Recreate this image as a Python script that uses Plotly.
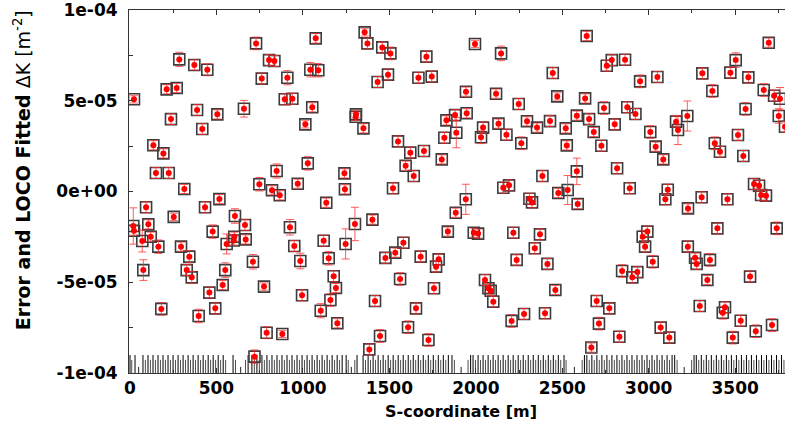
import plotly.graph_objects as go

# ---- data (S in m, dK in 1e-5 m^-2) ----
s_pos = [23, 135, 193, 150, 224, 314, 212, 270, 237, 285, 372, 447, 388, 418, 505, 517, 659, 729, 804, 835,
         762, 910, 895, 939, 1014, 1074, 1043, 1089, 1054, 1028, 848, 748, 821, 866, 970,
         19, 23, 93, 106, 120, 71, 164, 77, 181, 253, 295, 343, 328, 357, 397, 434, 478, 459, 493, 536,
         551, 559, 607, 603, 600, 665, 669, 711, 775, 790, 881, 720, 925, 950, 985, 995, 1135, 1120, 1149,
         1178, 1191, 1159, 1103, 1199,
         1357, 1373, 1459, 1506, 1432, 1492, 1668, 1745, 1714, 1995, 2146, 2445, 2471, 1943, 2117, 2248,
         1307, 1305, 1350, 1550, 1621, 1700, 1594, 1641, 1803, 1830, 1880, 1947, 1818, 1887, 2042, 2030,
         2131, 2177, 2296, 2354, 2429, 2263, 2385, 2192, 2159, 1240, 1243, 1521, 1942, 2477, 2310, 2325,
         1301, 1247, 1402, 1477, 1534, 1581, 1562, 1417, 1446, 1384, 1654, 1608, 1681, 1770, 1785, 1758,
         1726, 1838, 1884, 1988, 2013, 2053, 2073, 2086, 2101, 2217, 2236, 2371, 2341, 2414, 2460, 2207,
         2279, 2400,
         2641, 2757, 2786, 2863, 2950, 3050, 2632, 2741, 2876, 2923, 2584, 2655, 2520, 2682, 2803, 2526,
         2726, 3009, 3040, 3084, 3158, 3169, 3223, 3310, 3368, 3472, 3503, 3576, 3694, 3665, 3725, 3759,
         3560, 3752, 3788, 3516, 3382, 3412, 3547, 2817, 2584, 2531, 2890, 3110, 3609, 3638, 3650, 3678,
         3096, 3306, 3455,
         2589, 3227, 3397, 3740, 2965, 2992, 2979, 3023, 2846, 2905, 2934, 3226, 3268, 3277, 3354, 3339,
         3586, 2699, 2772, 2712, 2830, 2668, 3295, 3441, 3428, 3532, 3619, 3713, 3069, 3119, 3486]

dk_fit = [5.08, 2.55, 2.10, 1.02, 1.02, 0.14, 5.63, 5.70, 3.99, 7.28, 6.97, 6.71, 4.49, 3.44, 4.25, -0.42,
          4.56, 8.16, 7.24, 7.19, 6.22, 6.27, 5.08, 5.11, 3.70, 8.44, 6.71, 6.68, 4.64, 1.55, 1.13, 0.40,
          0.07, -0.21, 0.43,
          -1.90, -2.16, -0.87, -1.81, -2.49, -2.73, -3.04, -4.33, -6.47, -1.40, -3.04, -3.59, -4.33, -4.73,
          -6.86, -0.87, -2.21, -5.57, -6.44, -5.15, -4.33, -2.89, -1.35, -2.49, -2.70, -1.85, -2.64, -3.87,
          -5.24, -7.78, -7.85, -9.10, -1.97, -3.00, -3.83, -5.72, -0.62, -2.71, -3.68, -4.67, -5.32, -5.98,
          -6.57, -7.26,
          8.77, 8.16, 7.94, 7.61, 6.03, 6.44, 6.27, 6.33, 7.43, 8.13, 7.61, 6.53, 5.24, 5.50, 5.39, 4.82,
          4.25, 4.12, 3.48, 2.76, 2.14, 2.23, 1.42, 0.85, 1.77, 3.92, 4.21, 4.31, 2.96, 3.24, 3.52, 2.99,
          3.74, 3.13, 3.87, 3.52, 3.88, 2.66, 0.85, 0.34, 0.21, 1.00, 0.12, 0.18, -0.43, -0.08, -0.40, -0.60,
          -1.79, -2.89, -1.55, -3.66, -3.37, -2.82, -4.82, -6.03, -7.96, -8.70, -6.44, -7.48, -3.59, -4.14,
          -3.74, -5.33, -8.18, -2.21, -1.17, -2.27, -2.32, -4.88, -5.33, -5.47, -6.07, -2.27, -3.77, -2.36,
          -3.13, -3.99, -5.43, -7.13, -6.75, -6.71,
          8.57, 6.93, 7.24, 7.26, 6.07, 6.31, 5.13, 4.60, 4.64, 4.27, 4.18, 3.99, 3.48, 3.28, 3.70, 2.54,
          2.52, 3.28, 2.47, 1.77, 3.85, 3.39, 4.16, 6.51, 5.54, 6.55, 7.24, 6.29, 8.20, 5.59, 5.28, 5.11,
          4.55, 4.16, 3.57, 3.11, 2.66, 2.19, 1.96, 1.28, 1.11, 0.08, 0.18, 0.10, 0.41, 0.32, -0.19, -0.23,
          -0.43, -0.32, -0.43,
          -0.69, -0.93, -2.03, -2.03, -2.49, -2.21, -3.04, -3.87, -4.38, -4.73, -4.44, -3.04, -3.65, -3.99,
          -3.77, -4.88, -4.69, -6.03, -6.44, -7.28, -8.00, -8.60, -6.31, -6.38, -6.68, -7.12, -7.70, -7.36,
          -7.50, -8.05, -8.05]

# black squares: error (same readings as fitted values)
dk_error = list(dk_fit)

fit_sigma = [0.20, 0.25, 0.25, 0.30, 0.30, 0.25, 0.25, 0.25, 0.30, 0.39, 0.28, 0.33, 0.30, 0.30, 0.25, 0.25,
             0.46, 0.35, 0.30, 0.30, 0.30, 0.39, 0.30, 0.30, 0.20, 0.26, 0.40, 0.37, 0.25, 0.37, 0.39, 0.37,
             0.25, 0.25, 0.25,
             1.00, 0.25, 0.30, 0.25, 0.25, 0.60, 0.37, 0.57, 0.35, 0.20, 0.25, 0.33, 0.30, 0.33, 0.37, 0.30,
             0.37, 0.30, 0.30, 0.25, 0.40, 0.55, 0.40, 0.25, 0.25, 0.30, 0.25, 0.40, 0.20, 0.33, 0.20, 0.37,
             0.43, 0.30, 0.43, 0.30, 0.25, 0.30, 0.37, 0.30, 0.25, 0.35, 0.39, 0.25,
             0.20, 0.30, 0.30, 0.35, 0.30, 0.30, 0.30, 0.30, 0.30, 0.20, 0.40, 0.30, 0.20, 0.25, 0.25, 0.30,
             0.20, 0.20, 0.25, 0.30, 0.30, 0.30, 0.25, 0.30, 0.25, 0.25, 0.30, 0.25, 0.30, 0.83, 0.30, 0.35,
             0.25, 0.30, 0.25, 0.25, 0.30, 0.35, 0.30, 0.30, 0.30, 0.25, 0.25, 0.30, 0.83, 0.25, 0.30, 0.30,
             0.92, 0.83, 0.25, 0.30, 0.25, 0.30, 0.35, 0.30, 0.35, 0.30, 0.30, 0.35, 0.30, 0.30, 0.30, 0.30,
             0.35, 0.25, 0.25, 0.25, 0.25, 0.30, 0.25, 0.25, 0.30, 0.30, 0.30, 0.30, 0.30, 0.30, 0.25, 0.35,
             0.30, 0.30,
             0.25, 0.30, 0.30, 0.30, 0.35, 0.30, 0.25, 0.35, 0.30, 0.30, 0.25, 0.30, 0.25, 0.25, 0.30, 0.25,
             0.30, 0.35, 0.25, 0.25, 0.30, 0.80, 0.83, 0.30, 0.35, 0.30, 0.40, 0.30, 0.25, 0.35, 0.30, 0.62,
             0.35, 0.40, 0.30, 0.30, 0.35, 0.30, 0.30, 0.30, 0.73, 0.80, 0.30, 0.30, 0.30, 0.30, 0.30, 0.30,
             0.30, 0.30, 0.30,
             0.25, 0.25, 0.30, 0.35, 0.35, 0.30, 0.30, 0.35, 0.35, 0.30, 0.30, 0.30, 0.25, 0.30, 0.35, 0.25,
             0.30, 0.30, 0.30, 0.35, 0.30, 0.25, 0.30, 0.30, 0.35, 0.30, 0.35, 0.35, 0.30, 0.30, 0.35]

# lattice element positions (bottom bar), in m
lattice_tall = [0, 29, 75, 104, 133, 162, 191, 220, 249, 278, 307, 336, 365, 394, 423, 452, 481, 510, 539,
                596, 683,
                705, 734, 763, 792, 821, 850, 879, 908, 937, 966, 995, 1024, 1053, 1082, 1111, 1140, 1169, 1198, 1227,
                1250, 1313,
                1348, 1377, 1406, 1435, 1464, 1493, 1522, 1551, 1580, 1609, 1638, 1667, 1696, 1725, 1754, 1783, 1812, 1841,
                1862, 1970,
                1984, 2013, 2042, 2071, 2100, 2129, 2158, 2187, 2216, 2245, 2274, 2303, 2332, 2361, 2390, 2419, 2448, 2477,
                2510, 2628,
                2642, 2671, 2700, 2729, 2758, 2787, 2816, 2845, 2874, 2903, 2932, 2961, 2990, 3019, 3048, 3077, 3106, 3135,
                3150, 3262,
                3275, 3304, 3333, 3362, 3391, 3420, 3449, 3478, 3507, 3536, 3565, 3594, 3623, 3652, 3681, 3710, 3739, 3768]
lattice_short = [10, 89, 118, 147, 176, 205, 234, 263, 292, 321, 350, 379, 408, 437, 466, 495, 524, 553,
                 610, 668,
                 719, 748, 777, 806, 835, 864, 893, 922, 951, 980, 1009, 1038, 1067, 1096, 1125, 1154, 1183, 1212,
                 1262, 1300,
                 1362, 1391, 1420, 1449, 1478, 1507, 1536, 1565, 1594, 1623, 1652, 1681, 1710, 1739, 1768, 1797, 1826,
                 1876, 1955,
                 1998, 2027, 2056, 2085, 2114, 2143, 2172, 2201, 2230, 2259, 2288, 2317, 2346, 2375, 2404, 2433, 2462, 2491,
                 2522, 2615,
                 2656, 2685, 2714, 2743, 2772, 2801, 2830, 2859, 2888, 2917, 2946, 2975, 3004, 3033, 3062, 3091, 3120,
                 3164, 3248,
                 3289, 3318, 3347, 3376, 3405, 3434, 3463, 3492, 3521, 3550, 3579, 3608, 3637, 3666, 3695, 3724, 3753, 3782]
lattice_low = [50, 640, 1280, 1915, 2570, 3205]
lattice_heights = {"tall": 0.99e-5, "short": 0.72e-5, "low": 0.33e-5}

y_tickvals = [-1e-4, -5e-5, 0, 5e-5, 1e-4]
y_ticktext = ["-1e-04", "-5e-05", "0e+00", "5e-05", "1e-04"]
x_tickvals = [0, 500, 1000, 1500, 2000, 2500, 3000, 3500]

SCALE = 1e-5
base = -1e-4

fig = go.Figure()


def lattice_trace(positions, h, color):
    xs, ys = [], []
    for p in positions:
        xs += [p, p, None]
        ys += [base, base + h, None]
    return go.Scatter(x=xs, y=ys, mode="lines", line=dict(color=color, width=1),
                      hoverinfo="skip", showlegend=False)


fig.add_trace(lattice_trace(lattice_short, lattice_heights["short"], "#505050"))
fig.add_trace(lattice_trace(lattice_low, lattice_heights["low"], "#202020"))
fig.add_trace(lattice_trace(lattice_tall, lattice_heights["tall"], "#000000"))

fig.add_trace(go.Scatter(
    x=s_pos, y=[v * SCALE for v in dk_error], mode="markers",
    marker=dict(symbol="square-open", size=11, color="#3c3c3c", line=dict(width=1.6, color="#3c3c3c")),
    showlegend=False, name="Error"))

fig.add_trace(go.Scatter(
    x=s_pos, y=[v * SCALE for v in dk_fit], mode="markers",
    marker=dict(symbol="circle", size=6, color="#ff0000", line=dict(width=0)),
    error_y=dict(type="data", array=[e * SCALE for e in fit_sigma], color="rgba(255,40,40,0.75)",
                 thickness=1, width=4),
    showlegend=False, name="LOCO fitted"))

tickfont = dict(family="DejaVu Sans", size=17, color="black", weight="bold")

fig.update_layout(
    width=785, height=428, autosize=False,
    margin=dict(l=129, r=0, t=10, b=55, pad=0),
    paper_bgcolor="white", plot_bgcolor="white",
    xaxis=dict(range=[-5.8, 3788], tickvals=x_tickvals, ticks="inside", ticklen=5, tickcolor="#333",
               showline=True, linecolor="#333", linewidth=1, mirror="ticks", showgrid=False, zeroline=False,
               tickfont=tickfont, automargin=False, ticklabeloverflow="allow",
               minor=dict(ticks="inside", dtick=250, ticklen=3, tickcolor="#333", showgrid=False)),
    yaxis=dict(range=[-1.0001e-4, 1.0001e-4], tickvals=y_tickvals, ticktext=y_ticktext, ticks="inside",
               ticklen=4, tickcolor="#333", showline=True, linecolor="#333", linewidth=1, showgrid=False,
               zeroline=False, tickfont=tickfont, automargin=False, ticklabeloverflow="allow",
               ticklabelstandoff=7,
               minor=dict(ticks="inside", tickvals=[-7.5e-5, -2.5e-5, 2.5e-5, 7.5e-5], ticklen=4,
                          tickcolor="#333", showgrid=False)),
    annotations=[
        dict(text="<b>S-coordinate [m]</b>", xref="paper", yref="paper", x=0.506, y=-0.107,
             xanchor="center", yanchor="middle", showarrow=False,
             font=dict(family="DejaVu Sans", size=16, color="black")),
        dict(text="<b>Error and LOCO Fitted</b> ΔK [m<sup>-2</sup>]", xref="paper", yref="paper",
             x=-0.163, y=0.559, xanchor="center", yanchor="middle", textangle=-90, showarrow=False,
             font=dict(family="DejaVu Sans", size=19, color="black")),
    ],
)

fig.write_html("out.html", config={"displayModeBar": False},
               post_script="document.body.style.margin='0px';")
